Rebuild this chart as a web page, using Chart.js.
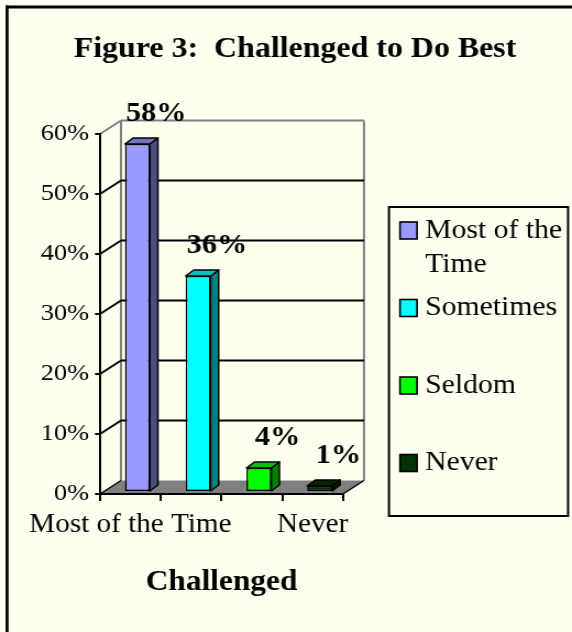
<!DOCTYPE html>
<html><head><meta charset="utf-8">
<script src="https://cdn.jsdelivr.net/npm/chart.js@4.4.1/dist/chart.umd.min.js"></script>
<style>
html,body{margin:0;padding:0;background:#FFFFF0;width:572px;height:632px;overflow:hidden}
#wrap{width:520px;height:632px;transform:scaleX(1.1);transform-origin:0 0}
canvas{display:block}
</style></head><body>
<div id="wrap"><canvas id="c" width="520" height="632" style="width:520px;height:632px"></canvas></div>
<script>
// ---- data ----
const categories = ['Most of the Time', 'Sometimes', 'Seldom', 'Never'];
const percentValues = [58, 36, 4, 1];
const yTickValues = [0, 10, 20, 30, 40, 50, 60];
const xTickLabels = ['Most of the Time', '', '', 'Never'];
const chartTitle = 'Figure 3:  Challenged to Do Best';
const xAxisTitle = 'Challenged';

// ---- style ----
const barColors = ['#9999FF', '#00FFFF', '#00FF00', '#003300'];
const BG = '#FFFFF0';
const FONT = '"Liberation Serif", "Times New Roman", serif';
const WALL = {dx: 19.1, dy: -13.5};
const BAR_POS = {dx: 6.4, dy: -2};
const BAR_DEPTH = {dx: 7.3, dy: -6};
const LABEL_OFF = {dx: 17, dy: -30};
const LEGEND = {x: 353.6, y: 207, w: 162.8, h: 309, swatchX: 363.6, swatchW: 15.5, swatchH: 17,
                textX: 386.4, firstY: 230.5, step: 77.5, lineH: 34, size: 27};

function shade(hex, f) {
  const n = parseInt(hex.slice(1), 16);
  const r = Math.round(((n >> 16) & 255) * f), g = Math.round(((n >> 8) & 255) * f), b = Math.round((n & 255) * f);
  return `rgb(${r},${g},${b})`;
}
function line(ctx, x1, y1, x2, y2) { ctx.beginPath(); ctx.moveTo(x1, y1); ctx.lineTo(x2, y2); ctx.stroke(); }
function poly(ctx, pts, fill, stroke, lw) {
  ctx.beginPath(); ctx.moveTo(pts[0][0], pts[0][1]);
  for (let i = 1; i < pts.length; i++) ctx.lineTo(pts[i][0], pts[i][1]);
  ctx.closePath();
  if (fill) { ctx.fillStyle = fill; ctx.fill(); }
  if (stroke) { ctx.strokeStyle = stroke; ctx.lineWidth = lw; ctx.lineJoin = 'round'; ctx.stroke(); }
}

const threeD = {
  id: 'threeD',
  beforeDraw(chart) {
    const {ctx, chartArea: a} = chart;
    const y = chart.scales.y;
    ctx.save();
    ctx.fillStyle = BG; ctx.fillRect(0, 0, chart.width, chart.height);
    // outer frame (top and left visible)
    ctx.strokeStyle = '#000';
    ctx.lineWidth = 3; line(ctx, 5, 7, chart.width, 7);
    ctx.lineWidth = 2.7; line(ctx, 6.4, 5.5, 6.4, chart.height);
    const x0 = a.left, x1 = a.right, bx0 = x0 + WALL.dx, bx1 = x1 + WALL.dx;
    const vMax = yTickValues[yTickValues.length - 1];
    const yTopB = y.getPixelForValue(vMax) + WALL.dy;
    const y0 = y.getPixelForValue(0), y0B = y0 + WALL.dy;
    // back wall verticals
    ctx.strokeStyle = '#808080'; ctx.lineWidth = 2;
    line(ctx, bx0, yTopB, bx0, y0B); line(ctx, bx1, yTopB, bx1, y0B);
    // gridlines on back wall + side wall diagonals
    yTickValues.forEach(v => {
      if (v === 0) return;
      const yf = y.getPixelForValue(v), yb = yf + WALL.dy;
      ctx.strokeStyle = v === vMax ? '#808080' : '#000';
      ctx.lineWidth = 2;
      line(ctx, bx0, yb, bx1, yb);
      line(ctx, x0, yf, bx0, yb);
    });
    // floor
    poly(ctx, [[x0, y0], [x1, y0], [bx1, y0B], [bx0, y0B]], '#808080', null, 0);
    ctx.strokeStyle = '#000'; ctx.lineWidth = 1.5;
    line(ctx, x0, y0, bx0, y0B); line(ctx, x1, y0, bx1, y0B);
    ctx.restore();
  },
  beforeDatasetsDraw(chart) {
    chart.ctx.save();
    chart.ctx.translate(BAR_POS.dx, BAR_POS.dy);
  },
  afterDatasetsDraw(chart) {
    const ctx = chart.ctx;
    const meta = chart.getDatasetMeta(0);
    meta.data.forEach((bar, i) => {
      const {x, y, base, width} = bar.getProps(['x', 'y', 'base', 'width'], true);
      const l = x - width / 2, r = x + width / 2;
      const c = barColors[i];
      poly(ctx, [[r, y], [r + BAR_DEPTH.dx, y + BAR_DEPTH.dy], [r + BAR_DEPTH.dx, base + BAR_DEPTH.dy], [r, base]], shade(c, 0.5), '#000', 1.5);
      poly(ctx, [[l, y], [l + BAR_DEPTH.dx, y + BAR_DEPTH.dy], [r + BAR_DEPTH.dx, y + BAR_DEPTH.dy], [r, y]], shade(c, 0.75), '#000', 1.5);
    });
    ctx.restore();
    // data labels
    ctx.save();
    ctx.fillStyle = '#000';
    ctx.font = `bold 27.5px ${FONT}`;
    ctx.textAlign = 'center'; ctx.textBaseline = 'middle';
    meta.data.forEach((bar, i) => {
      const {x, y} = bar.getProps(['x', 'y'], true);
      ctx.fillText(percentValues[i] + '%', x + BAR_POS.dx + LABEL_OFF.dx, y + BAR_POS.dy + LABEL_OFF.dy);
    });
    ctx.restore();
  },
  afterDraw(chart) {
    const ctx = chart.ctx;
    ctx.save();
    ctx.strokeStyle = '#000'; ctx.lineWidth = 2;
    ctx.strokeRect(LEGEND.x, LEGEND.y, LEGEND.w, LEGEND.h);
    ctx.font = `${LEGEND.size}px ${FONT}`;
    ctx.textAlign = 'left'; ctx.textBaseline = 'middle';
    const maxW = LEGEND.x + LEGEND.w - LEGEND.textX - 3;
    categories.forEach((name, i) => {
      const cy = LEGEND.firstY + i * LEGEND.step;
      ctx.fillStyle = barColors[i];
      ctx.fillRect(LEGEND.swatchX, cy - LEGEND.swatchH / 2, LEGEND.swatchW, LEGEND.swatchH);
      ctx.lineWidth = 1.6; ctx.strokeStyle = '#000';
      ctx.strokeRect(LEGEND.swatchX, cy - LEGEND.swatchH / 2, LEGEND.swatchW, LEGEND.swatchH);
      // wrap text
      const words = name.split(' ');
      const lines = []; let cur = '';
      words.forEach(w => {
        const t = cur ? cur + ' ' + w : w;
        if (cur && ctx.measureText(t).width > maxW) { lines.push(cur); cur = w; } else cur = t;
      });
      lines.push(cur);
      ctx.fillStyle = '#000';
      lines.forEach((ln, k) => ctx.fillText(ln, LEGEND.textX, cy + k * LEGEND.lineH));
    });
    ctx.restore();
  }
};

new Chart(document.getElementById('c'), {
  type: 'bar',
  data: {
    labels: categories,
    datasets: [{
      label: xAxisTitle,
      data: percentValues,
      backgroundColor: barColors,
      borderColor: '#000',
      borderWidth: 1.5,
      borderSkipped: false,
      barPercentage: 0.82,
      categoryPercentage: 0.5,
      clip: false
    }]
  },
  options: {
    responsive: false,
    devicePixelRatio: 1,
    animation: false,
    events: [],
    layout: {padding: {left: 16.4, right: 0, top: 0, bottom: 0}},
    plugins: {
      legend: {display: false},
      tooltip: {enabled: false},
      title: {
        display: true, text: chartTitle, color: '#000',
        font: {family: FONT, size: 29, weight: 'bold', lineHeight: 1.2},
        padding: {top: 32.6, bottom: 66.6}
      }
    },
    scales: {
      x: {
        type: 'category', offset: true,
        grid: {display: true, offset: true, drawOnChartArea: false, drawTicks: true, tickLength: 7, color: '#000', lineWidth: 2},
        border: {display: true, color: '#000', width: 2},
        ticks: {autoSkip: false, maxRotation: 0, minRotation: 0, padding: 8.6, color: '#000',
                font: {family: FONT, size: 26.5, lineHeight: 1.2},
                callback: (v, i) => xTickLabels[i]},
        title: {display: true, text: xAxisTitle, color: '#000',
                font: {family: FONT, size: 28.5, weight: 'bold', lineHeight: 1.2},
                padding: {top: 0, bottom: 32}},
        afterFit: s => { s.height = 138; }
      },
      y: {
        position: 'left', min: 0, max: 60,
        afterBuildTicks: s => { s.ticks = yTickValues.map(v => ({value: v})); },
        grid: {drawOnChartArea: false, drawTicks: true, tickLength: 4.5, color: '#000', lineWidth: 2},
        border: {display: true, color: '#000', width: 2},
        ticks: {padding: 5.5, color: '#000', font: {family: FONT, size: 24}, callback: v => v + '%'},
        afterFit: s => { s.width = 74.5; }
      },
      yR: {
        position: 'right', min: 0, max: 1,
        grid: {display: false, drawTicks: false},
        border: {display: false},
        ticks: {display: false},
        afterFit: s => { s.width = 208.2; }
      }
    }
  },
  plugins: [threeD]
});
</script></body></html>
